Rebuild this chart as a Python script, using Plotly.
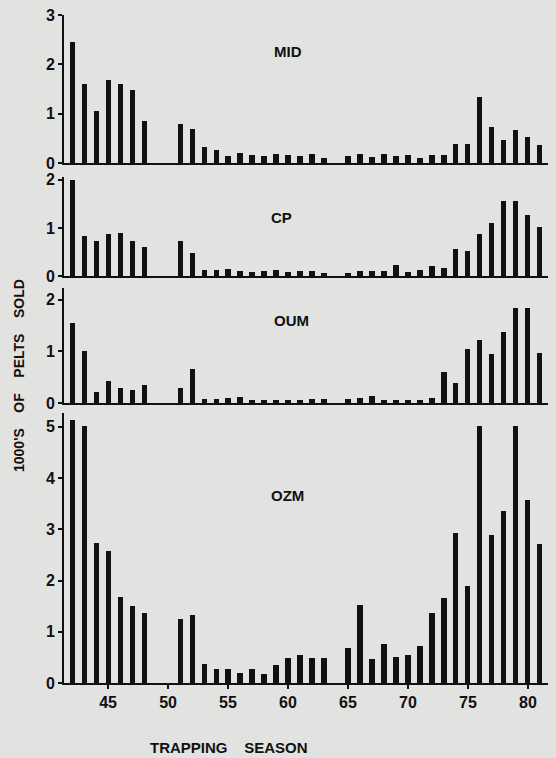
import plotly.graph_objects as go

seasons = list(range(42, 82))

# values per season (None = no bar)
mid = [2.45, 1.6, 1.05, 1.68, 1.6, 1.48, 0.86, None, None,
       0.8, 0.69, 0.33, 0.27, 0.14, 0.2, 0.16, 0.14, 0.18, 0.16, 0.14, 0.19, 0.1, None,
       0.14, 0.19, 0.12, 0.19, 0.14, 0.16, 0.11, 0.17, 0.17, 0.39, 0.39, 1.34, 0.73, 0.47, 0.66, 0.52, 0.37]
cp = [2.0, 0.84, 0.72, 0.88, 0.9, 0.72, 0.61, None, None,
      0.72, 0.48, 0.12, 0.12, 0.14, 0.1, 0.08, 0.1, 0.12, 0.08, 0.1, 0.1, 0.07, None,
      0.07, 0.1, 0.1, 0.1, 0.22, 0.09, 0.13, 0.2, 0.16, 0.57, 0.52, 0.88, 1.1, 1.57, 1.57, 1.27, 1.01]
oum = [1.55, 1.0, 0.21, 0.43, 0.29, 0.25, 0.34, None, None,
       0.29, 0.66, 0.08, 0.08, 0.1, 0.11, 0.06, 0.06, 0.05, 0.06, 0.06, 0.08, 0.08, None,
       0.08, 0.1, 0.13, 0.06, 0.06, 0.05, 0.06, 0.1, 0.61, 0.39, 1.05, 1.23, 0.95, 1.37, 1.85, 1.85, 0.97]
ozm = [5.14, 5.01, 2.73, 2.57, 1.68, 1.5, 1.37, None, None,
       1.24, 1.32, 0.38, 0.28, 0.28, 0.2, 0.27, 0.18, 0.36, 0.49, 0.54, 0.48, 0.49, None,
       0.69, 1.52, 0.47, 0.77, 0.51, 0.54, 0.72, 1.37, 1.65, 2.93, 1.89, 5.01, 2.88, 3.35, 5.01, 3.58, 2.71]

panel_names = ["MID", "CP", "OUM", "OZM"]
panel_values = [mid, cp, oum, ozm]
y_ranges = [[0, 3.0], [0, 2.06], [0, 2.23], [0, 5.27]]
y_ticks = [[0, 1, 2, 3], [0, 1, 2], [0, 1, 2], [0, 1, 2, 3, 4, 5]]
x_ticks = [45, 50, 55, 60, 65, 70, 75, 80]
domains = [[0.7784, 1.0], [0.6093, 0.7575], [0.4192, 0.5913], [0.0, 0.4042]]
label_y = [52, 217, 320, 495]  # pixel positions of panel labels
label_x = [288, 281, 291, 287]

W, H = 556, 758
ML, MR, MT, MB = 64, 8, 15, 75
BG = "#e2e2e0"
INK = "#111111"
FONT = "Liberation Sans"

fig = go.Figure()
for i, (name, vals) in enumerate(zip(panel_names, panel_values)):
    n = i + 1
    fig.add_trace(go.Bar(
        x=seasons, y=vals, width=0.42, marker=dict(color=INK, line=dict(width=0)),
        xaxis="x" if n == 1 else f"x{n}", yaxis="y" if n == 1 else f"y{n}",
        showlegend=False, hoverinfo="x+y", name=name))

layout = dict(
    width=W, height=H, paper_bgcolor=BG, plot_bgcolor=BG,
    margin=dict(l=ML, r=MR, t=MT, b=MB),
    font=dict(family=FONT, color=INK),
    bargap=0,
)
for i in range(4):
    n = i + 1
    xk = "xaxis" if n == 1 else f"xaxis{n}"
    yk = "yaxis" if n == 1 else f"yaxis{n}"
    last = (n == 4)
    layout[xk] = dict(
        range=[41.33, 81.67], anchor="y" if n == 1 else f"y{n}",
        showgrid=False, zeroline=False, showline=True, linecolor=INK, linewidth=2,
        tickmode="array", tickvals=x_ticks,
        ticktext=[f"<b>{t}</b>" for t in x_ticks],
        showticklabels=last, ticks="outside" if last else "",
        ticklen=4, tickwidth=2, tickcolor=INK,
        tickfont=dict(family=FONT, size=16, color=INK),
        fixedrange=True,
    )
    if n != 1:
        layout[xk]["matches"] = "x"
    layout[yk] = dict(
        range=y_ranges[i], domain=domains[i], anchor="x" if n == 1 else f"x{n}",
        showgrid=False, zeroline=False, showline=True, linecolor=INK, linewidth=2,
        tickmode="array", tickvals=y_ticks[i],
        ticktext=[f"<b>{t}</b>" for t in y_ticks[i]],
        ticks="outside", ticklen=4, tickwidth=2, tickcolor=INK,
        tickfont=dict(family=FONT, size=16, color=INK),
        fixedrange=True,
    )
fig.update_layout(**layout)

plot_h = H - MT - MB
plot_w = W - ML - MR

def px_to_paper(x, y):
    return (x - ML) / plot_w, (H - MB - y) / plot_h

for i, name in enumerate(panel_names):
    px, py = px_to_paper(label_x[i], label_y[i])
    fig.add_annotation(x=px, y=py, xref="paper", yref="paper", showarrow=False,
                       xanchor="center", yanchor="middle",
                       text=f"<b>{name}</b>", font=dict(family=FONT, size=15, color=INK))

px, py = px_to_paper(229, 747)
fig.add_annotation(x=px, y=py, xref="paper", yref="paper", showarrow=False,
                   xanchor="center", yanchor="middle",
                   text="<b>TRAPPING" + "\u00a0" * 4 + "SEASON</b>",
                   font=dict(family=FONT, size=15, color=INK))

px, py = px_to_paper(19, 376)
ytitle = ("\u00a0" * 4).join(["1000'S", "OF", "PELTS", "SOLD"])
fig.add_annotation(x=px, y=py, xref="paper", yref="paper", showarrow=False, textangle=-90,
                   xanchor="center", yanchor="middle",
                   text=f"<b>{ytitle}</b>",
                   font=dict(family=FONT, size=14, color=INK))

fig.write_html("out.html", config={"displayModeBar": False},
               post_script="document.body.style.margin='0';document.body.style.background='%s';" % BG)
